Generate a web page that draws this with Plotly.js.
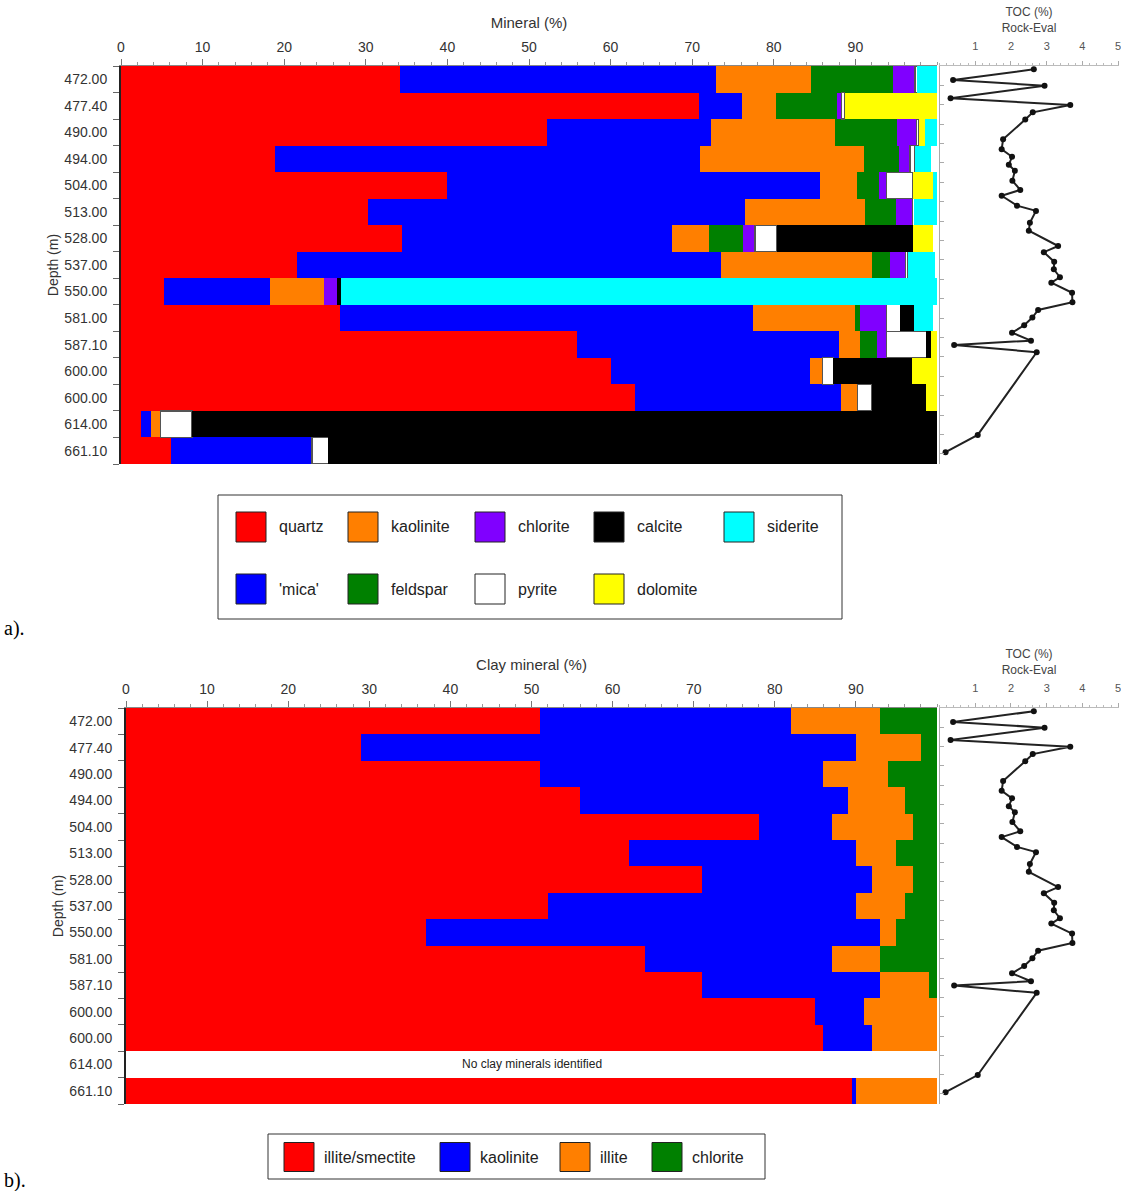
<!DOCTYPE html>
<html>
<head>
<meta charset="utf-8">
<script src="https://cdn.plot.ly/plotly-3.0.1.min.js"></script>
<style>
  html, body { margin: 0; padding: 0; background: #fff; }
  #chart { width: 1121px; height: 1191px; }
</style>
</head>
<body>
<div id="chart"></div>
<script>
// ---------------- DATA ----------------
const depthLabels = ['472.00','477.40','490.00','494.00','504.00','513.00','528.00','537.00','550.00','581.00','587.10','600.00','600.00','614.00','661.10'];

// a) bulk mineralogy (%)
const mineralNames  = ['quartz', "'mica'", 'kaolinite', 'feldspar', 'chlorite', 'pyrite', 'calcite', 'dolomite', 'siderite'];
const mineralColors = ['#FF0000', '#0000FF', '#FF7F00', '#008000', '#8000FF', '#FFFFFF', '#000000', '#FFFF00', '#00FFFF'];
const quartz    = [34.2, 70.8, 52.2, 18.9, 40.0, 30.3, 34.4, 21.6,  5.3, 26.8, 55.9, 60.0, 63.0,  2.5,  6.1];
const mica      = [38.7,  5.3, 20.1, 52.1, 45.6, 46.2, 33.1, 51.9, 13.0, 50.6, 32.1, 24.4, 25.2,  1.2, 17.3];
const kaolinite = [11.7,  4.2, 15.2, 20.0,  4.6, 14.7,  4.6, 18.5,  6.6, 12.6,  2.6,  1.6,  2.1,  1.1,  0];
const feldspar  = [10.0,  7.5,  7.6,  4.3,  2.7,  3.8,  4.1,  2.3,  0,    0.6,  2.1,  0,    0,    0,    0];
const chlorite  = [ 2.7,  0.5,  2.4,  1.4,  0.9,  2.0,  1.5,  1.8,  1.6,  3.2,  1.1,  0,    0,    0,    0];
const pyrite    = [ 0.3,  0.4,  0.3,  0.6,  3.2,  0.2,  2.7,  0.3,  0,    1.7,  4.9,  1.3,  1.7,  3.9,  2.0];
const calcite   = [ 0,    0,    0,    0,    0,    0,   16.6,  0,    0.5,  1.7,  0.6,  9.6,  6.7, 91.3, 74.6];
const dolomite  = [ 0,   11.3,  0.7,  0,    2.5,  0,    2.5,  0,    0,    0,    0.7,  3.1,  1.3,  0,    0];
const siderite  = [ 2.4,  0,    1.5,  2.0,  0.5,  2.8,  0,    3.4, 73.0,  2.3,  0,    0,    0,    0,    0];
const mineralSeries = [quartz, mica, kaolinite, feldspar, chlorite, pyrite, calcite, dolomite, siderite];

// b) clay mineralogy (%)
const clayNames  = ['illite/smectite', 'kaolinite', 'illite', 'chlorite'];
const clayColors = ['#FF0000', '#0000FF', '#FF7F00', '#008000'];
const illiteSmectite = [51, 29, 51, 56, 78, 62, 71, 52, 37, 64, 71, 85, 86, null, 89.5];
const clayKaolinite  = [31, 61, 35, 33,  9, 28, 21, 38, 56, 23, 22,  6,  6, null,  0.5];
const illite         = [11,  8,  8,  7, 10,  5,  5,  6,  2,  6,  6,  9,  8, null, 10];
const clayChlorite   = [ 7,  2,  6,  4,  3,  5,  3,  4,  5,  7,  1,  0,  0, null,  0];
const claySeries = [illiteSmectite, clayKaolinite, illite, clayChlorite];
const noClayIndex = 13;
const noClayText = 'No clay minerals identified';

// TOC (Rock-Eval) profile
const tocDepth = [471.7, 477.2, 480.2, 486.6, 490.1, 493.9, 497.6, 507.8, 512.9, 516.8, 520.9, 524.0, 529.1, 533.9, 536.9, 542.0, 544.7, 550.8, 554.9, 562.8, 566.0, 570.9, 574.8, 578.9, 581.7, 586.9, 591.8, 595.8, 599.7, 603.7, 607.5, 611.6, 613.8, 617.6, 660.2, 669.1];
const tocValue = [2.64, 0.38, 2.94, 0.31, 3.66, 2.61, 2.40, 1.78, 1.74, 2.03, 1.94, 2.11, 2.04, 2.26, 1.74, 2.17, 2.70, 2.53, 2.50, 3.32, 2.92, 3.21, 3.20, 3.37, 3.13, 3.71, 3.72, 2.76, 2.60, 2.37, 2.03, 2.56, 0.41, 2.72, 1.07, 0.17];
const tocTicks = [1, 2, 3, 4, 5];
const pctTicks = [0, 10, 20, 30, 40, 50, 60, 70, 80, 90];

// ---------------- LAYOUT HELPERS ----------------
const W = 1121, H = 1191;
const px = x => x / W;
const py = y => 1 - y / H;
const FONT = 'Arial, "Liberation Sans", sans-serif';
const rowIdx = depthLabels.map((_, i) => i);

const traces = [];
mineralSeries.forEach((vals, k) => {
  const isPyrite = mineralNames[k] === 'pyrite';
  traces.push({
    type: 'bar', orientation: 'h', xaxis: 'x', yaxis: 'y',
    name: mineralNames[k], y: rowIdx, x: vals.map(v => v ? v : null),
    marker: { color: mineralColors[k], line: { color: isPyrite ? '#555' : mineralColors[k], width: isPyrite ? 1.2 : 0 } },
    showlegend: false, hoverinfo: 'x+name'
  });
});
claySeries.forEach((vals, k) => {
  traces.push({
    type: 'bar', orientation: 'h', xaxis: 'x3', yaxis: 'y3',
    name: clayNames[k], y: rowIdx, x: vals.map(v => v ? v : null),
    marker: { color: clayColors[k], line: { width: 0 } },
    showlegend: false, hoverinfo: 'x+name'
  });
});
['x2', 'x4'].forEach((xa, j) => {
  traces.push({
    type: 'scatter', mode: 'lines+markers', xaxis: xa, yaxis: j === 0 ? 'y2' : 'y4',
    x: tocValue, y: tocDepth, name: 'TOC',
    line: { color: '#222', width: 2 }, marker: { color: '#111', size: 6 },
    showlegend: false, cliponaxis: false
  });
});

function pctAxis(domain, anchor, title) {
  return {
    domain: domain, anchor: anchor, side: 'top', range: [0, 100],
    tickmode: 'array', tickvals: pctTicks, ticks: 'outside', ticklen: 6, tickcolor: '#777',
    minor: { tickmode: 'linear', tick0: 0, dtick: 2, ticks: 'outside', ticklen: 3, tickcolor: '#999', showgrid: false },
    showline: true, linecolor: '#888', linewidth: 1.5, showgrid: false, zeroline: false,
    ticklabelstandoff: 1,
    tickfont: { family: FONT, size: 14, color: '#333' },
    title: { text: title, font: { family: FONT, size: 15, color: '#333' }, standoff: 6 },
    fixedrange: true
  };
}
function depthAxis(domain, anchor) {
  return {
    domain: domain, anchor: anchor, range: [depthLabels.length - 0.5, -0.5],
    tickmode: 'array', tickvals: rowIdx, ticktext: depthLabels, ticks: '',
    minor: { tickmode: 'linear', tick0: -0.5, dtick: 1, ticks: 'outside', ticklen: 6, tickcolor: '#666', showgrid: false },
    showline: true, linecolor: '#222', linewidth: 2, showgrid: false, zeroline: false,
    ticklabelstandoff: 9,
    tickfont: { family: FONT, size: 14, color: '#333' },
    title: { text: 'Depth (m)', font: { family: FONT, size: 14, color: '#333' }, standoff: 2 },
    fixedrange: true
  };
}
function tocXAxis(domain, anchor) {
  return {
    domain: domain, anchor: anchor, side: 'top', range: [0, 5.01],
    tickmode: 'array', tickvals: tocTicks, ticks: 'outside', ticklen: 4, tickcolor: '#aaa',
    minor: { tickmode: 'linear', tick0: 0, dtick: 0.2, ticks: 'outside', ticklen: 2, tickcolor: '#bbb', showgrid: false },
    showline: true, linecolor: '#bbb', linewidth: 1, showgrid: false, zeroline: false,
    ticklabelstandoff: 7, ticklabeloverflow: 'allow',
    tickfont: { family: FONT, size: 11, color: '#555' },
    title: { text: 'TOC (%)<br>Rock-Eval', font: { family: FONT, size: 12, color: '#444' }, standoff: 4 },
    fixedrange: true
  };
}
function tocYAxis(domain, anchor) {
  return {
    domain: domain, anchor: anchor, range: [675.2, 470],
    tickmode: 'linear', tick0: 470, dtick: 10, ticks: 'inside', ticklen: 4, tickcolor: '#aaa',
    showticklabels: false, showline: true, linecolor: '#aaa', linewidth: 1, showgrid: false, zeroline: false,
    fixedrange: true
  };
}

const topY = [py(464), py(66)];
const botY = [py(1104), py(708)];
const tocX = [px(939.5), px(1118.5)];

const shapes = [];
const annotations = [];

// Legend a
shapes.push({ type: 'rect', xref: 'paper', yref: 'paper', x0: px(218), x1: px(842), y0: py(619), y1: py(495), line: { color: '#333', width: 1 }, fillcolor: 'rgba(0,0,0,0)' });
const legAcols = [236, 348, 475, 594, 724];
const legArows = [527, 589];
mineralNames.forEach((name, i) => {
  const x0 = legAcols[Math.floor(i / 2)], yc = legArows[i % 2];
  shapes.push({ type: 'rect', xref: 'paper', yref: 'paper', x0: px(x0), x1: px(x0 + 30), y0: py(yc + 15), y1: py(yc - 15), fillcolor: mineralColors[i], line: { color: '#222', width: 1 } });
  annotations.push({ xref: 'paper', yref: 'paper', x: px(x0 + 41), y: py(yc), xanchor: 'left', yanchor: 'middle', showarrow: false, text: name, font: { family: FONT, size: 16, color: '#222' } });
});

// Legend b
shapes.push({ type: 'rect', xref: 'paper', yref: 'paper', x0: px(268), x1: px(765), y0: py(1179), y1: py(1134), line: { color: '#333', width: 1 }, fillcolor: 'rgba(0,0,0,0)' });
const legBcols = [284, 440, 560, 652];
clayNames.forEach((name, i) => {
  const x0 = legBcols[i], yc = 1157;
  shapes.push({ type: 'rect', xref: 'paper', yref: 'paper', x0: px(x0), x1: px(x0 + 30), y0: py(yc + 14.5), y1: py(yc - 14.5), fillcolor: clayColors[i], line: { color: '#222', width: 1 } });
  annotations.push({ xref: 'paper', yref: 'paper', x: px(x0 + 38), y: py(yc), xanchor: 'left', yanchor: 'middle', showarrow: false, text: name, font: { family: FONT, size: 16, color: '#222' } });
});

// No clay minerals text
annotations.push({ xref: 'x3', yref: 'y3', x: 50, y: noClayIndex, showarrow: false, text: noClayText, font: { family: FONT, size: 12, color: '#222' } });

// Panel labels
annotations.push({ xref: 'paper', yref: 'paper', x: px(2), y: py(628), xanchor: 'left', yanchor: 'middle', showarrow: false, text: 'a).', font: { family: '"Liberation Serif", "Times New Roman", serif', size: 20, color: '#000' } });
annotations.push({ xref: 'paper', yref: 'paper', x: px(2), y: py(1180), xanchor: 'left', yanchor: 'middle', showarrow: false, text: 'b).', font: { family: '"Liberation Serif", "Times New Roman", serif', size: 20, color: '#000' } });

const layout = {
  width: W, height: H,
  margin: { l: 0, r: 0, t: 0, b: 0 },
  paper_bgcolor: '#fff', plot_bgcolor: 'rgba(0,0,0,0)',
  barmode: 'stack', bargap: 0,
  showlegend: false,
  font: { family: FONT },
  xaxis:  pctAxis([px(121), px(937)], 'y', 'Mineral (%)'),
  yaxis:  depthAxis(topY, 'x'),
  xaxis2: tocXAxis(tocX, 'y2'),
  yaxis2: tocYAxis(topY, 'x2'),
  xaxis3: pctAxis([px(126), px(937)], 'y3', 'Clay mineral (%)'),
  yaxis3: depthAxis(botY, 'x3'),
  xaxis4: tocXAxis(tocX, 'y4'),
  yaxis4: tocYAxis(botY, 'x4'),
  shapes: shapes,
  annotations: annotations
};

Plotly.newPlot('chart', traces, layout, { displayModeBar: false, staticPlot: true });
</script>
</body>
</html>
